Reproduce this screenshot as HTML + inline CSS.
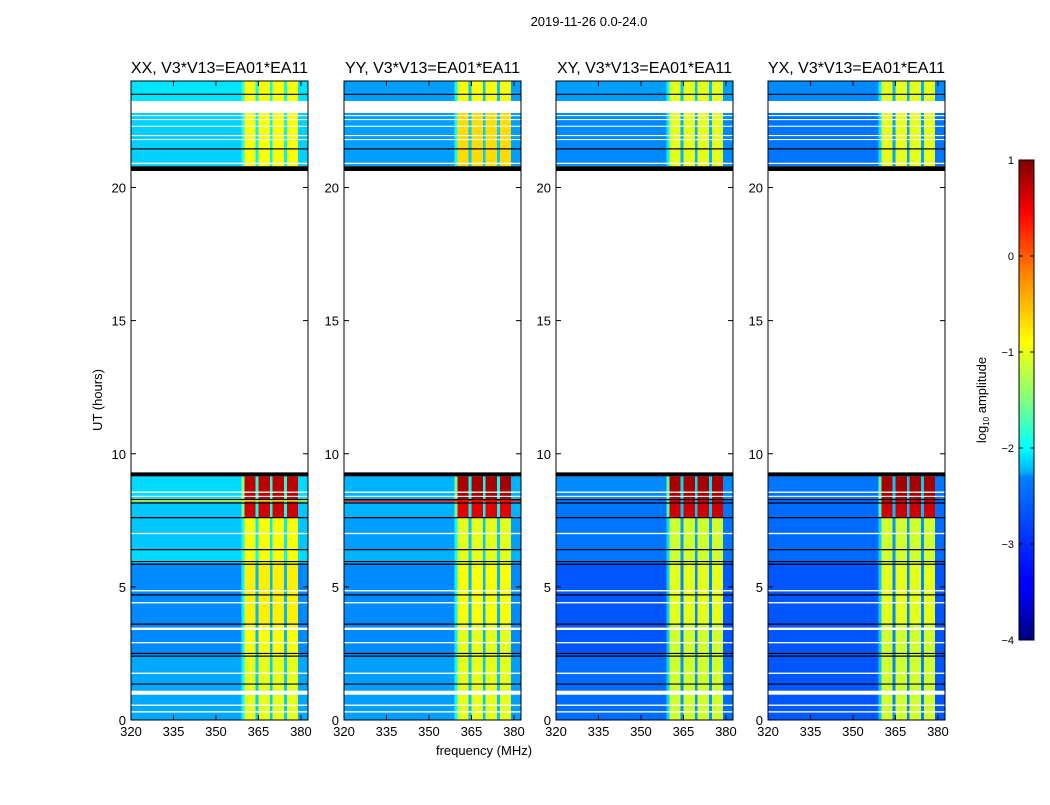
<!DOCTYPE html>
<html><head><meta charset="utf-8"><style>
body{margin:0;background:#fff;}
svg text{font-family:"Liberation Sans",sans-serif;fill:#000;}
</style></head><body>
<svg id="fig" width="1050" height="800" viewBox="0 0 1050 800" xmlns="http://www.w3.org/2000/svg">
<defs>
<linearGradient id="jet" x1="0" y1="1" x2="0" y2="0">
<stop offset="0" stop-color="#00007f"/><stop offset="0.11" stop-color="#0000ff"/>
<stop offset="0.125" stop-color="#0000ff"/><stop offset="0.34" stop-color="#0080ff"/>
<stop offset="0.35" stop-color="#00b0ff"/><stop offset="0.4" stop-color="#00ffff" />
<stop offset="0.5" stop-color="#80ff80"/><stop offset="0.62" stop-color="#ffff00"/>
<stop offset="0.75" stop-color="#ff9000"/><stop offset="0.89" stop-color="#ff0000"/>
<stop offset="1" stop-color="#7f0000"/>
</linearGradient>
</defs>
<text x="589" y="26" font-size="13" text-anchor="middle">2019-11-26 0.0-24.0</text>
<g id="panels"></g>
<text x="484" y="755" font-size="13" text-anchor="middle">frequency (MHz)</text>
<text transform="translate(102,400) rotate(-90)" font-size="13" text-anchor="middle">UT (hours)</text>
<g id="cbar"></g>
<text transform="translate(986,400) rotate(-90)" font-size="13" text-anchor="middle">log<tspan font-size="8" dy="3">10</tspan><tspan dy="-3"> amplitude</tspan></text>
</svg>
<script>
const NS="http://www.w3.org/2000/svg";
const panelTitles=["XX, V3*V13=EA01*EA11","YY, V3*V13=EA01*EA11","XY, V3*V13=EA01*EA11","YX, V3*V13=EA01*EA11"];
const panelX=[131,344,556,768];
const xTicks=[320,335,350,365,380];
const yTicks=[0,5,10,15,20];
const cbTicks=[1,0,-1,-2,-3,-4];
const segStart=[0,2.45,3.6,5.9,6.4,7.6,8.2,8.3,20.8,22.8];
const segEnd=[2.45,3.6,5.9,6.4,7.6,8.2,8.3,9.15,22.8,24];
const bgXX=[-2.55,-2.7,-2.7,-2.3,-2.4,-2.4,-1.0,-2.3,-2.35,-2.25];
const bandXX=[-1.0,-0.9,-0.8,-0.9,-0.9,0.6,-1.0,0.7,-0.9,-0.9];
const bgYY=[-2.6,-2.7,-2.7,-2.5,-2.6,-2.5,0.3,-2.5,-2.6,-2.6];
const bandYY=[-1.0,-1.0,-0.9,-1.0,-1.0,0.5,0.3,0.8,-0.7,-0.9];
const bgXY=[-2.85,-2.95,-2.95,-2.8,-2.8,-2.8,-2.8,-2.7,-2.7,-2.6];
const bandXY=[-1.1,-1.1,-1.0,-1.1,-1.1,0.6,0.6,0.8,-1.0,-1.0];
const bgYX=[-2.95,-2.95,-2.95,-2.85,-2.85,-2.85,-2.85,-2.8,-2.8,-2.7];
const bandYX=[-1.1,-1.1,-1.0,-1.1,-1.1,0.6,0.6,0.8,-1.0,-1.0];
const chanWeight=[0,0,0,0,0,0,0,0,0,0,0,0,0,0,0,0,0,0,0,0,0,0,0,0,0,0,0,0,0,0,0,0,0,0,0,0,0,0,0,0.3,
 1,1,1,1,0.12,1,1,1,1,0.12,1,1,1,1,0.12,1,1,1,1,0,0,0,0];
const whiteGaps=[[0.28,0.33],[0.53,0.58],[0.95,1.1],[1.73,1.78],[2.88,2.93],[3.38,3.47],[4.38,4.43],[4.83,4.88],[6.98,7.03],[8.38,8.42],[8.53,8.58],[9.3,20.62],[20.88,20.93],[21.78,21.82],[21.93,21.97],[22.28,22.32],[22.53,22.57],[22.68,22.72],[22.8,23.25]];
const blackLines=[1.35,2.4,2.5,3.6,4.7,5.85,5.95,6.4,7.6,8.15,8.28,21.45,23.5];
const blackBands=[[9.15,9.3],[20.62,20.8]];
const bgs=[bgXX,bgYY,bgXY,bgYX], bands=[bandXX,bandYY,bandXY,bandYX];
const W=177,TOP=81,BOT=720,F0=320,F1=382.5,VMIN=-4,VMAX=1;
function yS(h){return BOT-h/24*(BOT-TOP);}
function xS(px,f){return px+(f-F0)/(F1-F0)*W;}
function jet(v){let t=(v-VMIN)/(VMAX-VMIN);t=Math.max(0,Math.min(1,t));
 const c=x=>Math.round(255*Math.max(0,Math.min(1,x)));
 const r=c(Math.min(4*t-1.5,-4*t+4.5)),g=c(Math.min(4*t-0.5,-4*t+3.5)),b=c(Math.min(4*t+0.5,-4*t+2.5));
 return `rgb(${r},${g},${b})`;}
function mk(tag,attrs,parent){const e=document.createElementNS(NS,tag);for(const k in attrs)e.setAttribute(k,attrs[k]);parent.appendChild(e);return e;}
const root=document.getElementById('panels');
for(let p=0;p<4;p++){
 const px=panelX[p];
 const g=mk('g',{},root);
 
 
 const hm=mk('g',{'shape-rendering':'crispEdges'},g);
 
 
 for(let s=0;s<segStart.length;s++){
  const y1=yS(segEnd[s]),y2=yS(segStart[s]);
  for(let c=0;c<chanWeight.length;c++){
   const f=F0+c;const v=bgs[p][s]+chanWeight[c]*(bands[p][s]-bgs[p][s]);
   const x1=xS(px,f),x2=xS(px,Math.min(f+1,F1));
   const r=mk('rect',{x:x1,y:y1,width:x2-x1+0.4,height:y2-y1,fill:jet(v)},hm);
   
   
  }
 }
 for(const gp of whiteGaps){const r=mk('rect',{x:px,y:yS(gp[1]),width:W,height:yS(gp[0])-yS(gp[1]),fill:'#fff'},g);
  }
 for(const bb of blackBands){const r=mk('rect',{x:px,y:yS(bb[1]),width:W,height:yS(bb[0])-yS(bb[1]),fill:'#000'},g);
  }
 for(const bl of blackLines){const l=mk('line',{x1:px,x2:px+W,y1:yS(bl),y2:yS(bl),stroke:'#000','stroke-width':1.2},g);
  }
 const fr=mk('rect',{x:px,y:TOP,width:W,height:BOT-TOP,fill:'none',stroke:'#000','stroke-width':1},g);
 
 const t=mk('text',{x:px+W/2,y:73,'font-size':16,'text-anchor':'middle'},g);t.textContent=panelTitles[p];
 
 for(const xt of xTicks){const x=xS(px,xt);
  mk('line',{x1:x,x2:x,y1:BOT,y2:BOT-5,stroke:'#000'},g);mk('line',{x1:x,x2:x,y1:TOP,y2:TOP+5,stroke:'#000'},g);
  const l=mk('text',{x:x,y:BOT+16,'font-size':13,'text-anchor':'middle'},g);l.textContent=xt;
  }
 for(const yt of yTicks){const y=yS(yt);
  mk('line',{x1:px,x2:px+5,y1:y,y2:y,stroke:'#000'},g);mk('line',{x1:px+W,x2:px+W-5,y1:y,y2:y,stroke:'#000'},g);
  const l=mk('text',{x:px-5,y:y+5,'font-size':13,'text-anchor':'end'},g);l.textContent=yt;
  }
}
const cb=document.getElementById('cbar');
const CX=1019,CW=15,CT=160,CB=640;
mk('rect',{x:CX,y:CT,width:CW,height:CB-CT,fill:'url(#jet)',stroke:'#000','stroke-width':1},cb);
for(const v of cbTicks){const y=CB-(v-VMIN)/(VMAX-VMIN)*(CB-CT);
 mk('line',{x1:CX,x2:CX+4,y1:y,y2:y,stroke:'#000'},cb);mk('line',{x1:CX+CW,x2:CX+CW-4,y1:y,y2:y,stroke:'#000'},cb);
 const l=mk('text',{x:CX-5,y:y+4,'font-size':11,'text-anchor':'end'},cb);l.textContent=(v<0?'\u2212'+(-v):v);
 }
</script>
</body></html>
